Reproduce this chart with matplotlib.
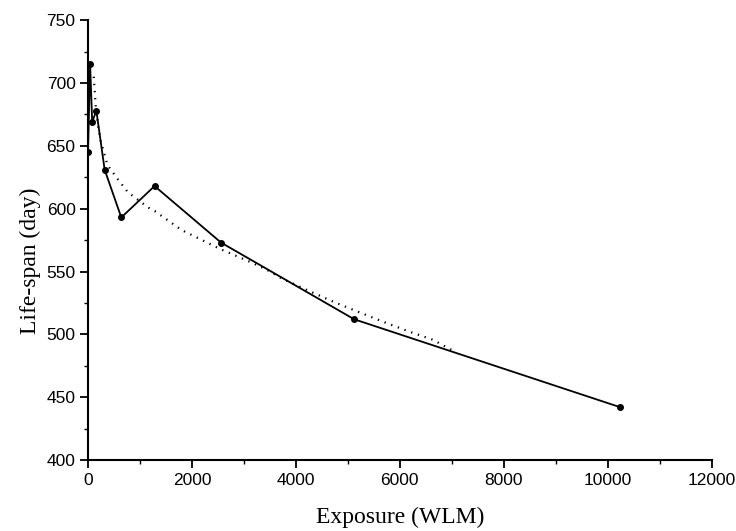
import matplotlib

matplotlib.use("Agg")
import matplotlib.pyplot as plt
from matplotlib.ticker import MultipleLocator

# exposición (WLM) y vida media (días)
exposure = [0, 40, 80, 160, 320, 640, 1280, 2560, 5120, 10240]
lifespan = [645, 715, 669, 678, 631, 593, 618, 573, 512, 442]

# curva de ajuste punteada, muestreada a ojo sobre la figura
fit_x = [110, 150, 200, 244, 371, 544, 769, 898, 1154, 1288, 1800, 2538,
         3100, 3436, 3750, 4333, 4718, 5102, 5679, 6192, 6641, 7019]
fit_y = [705, 680, 664, 654, 635, 625, 613, 609, 601, 598, 583, 568,
         558, 551.5, 544, 533, 526, 519.5, 510, 502, 495.6, 487]

fig = plt.figure(figsize=(7.36, 5.31), dpi=100)
ax = fig.add_axes([0.1196, 0.1337, 0.8474, 0.8283])

ax.plot(exposure, lifespan, color="black", lw=1.3, marker="o", ms=4)
ax.plot(fit_x, fit_y, color="black", lw=1.6, ls=(0, (0.6, 2.6)))

ax.set_xlim(0, 12000)
ax.set_ylim(400, 750)
ax.xaxis.set_major_locator(MultipleLocator(2000))
ax.xaxis.set_minor_locator(MultipleLocator(1000))
ax.yaxis.set_major_locator(MultipleLocator(50))
ax.yaxis.set_minor_locator(MultipleLocator(25))

for side in ("top", "right"):
    ax.spines[side].set_visible(False)
for side in ("left", "bottom"):
    ax.spines[side].set_linewidth(1.5)

ax.tick_params(which="major", direction="out", length=6, width=1.3,
               labelsize=12.5, pad=3)
ax.tick_params(which="minor", direction="out", length=3, width=1.0)
for lab in ax.get_xticklabels() + ax.get_yticklabels():
    lab.set_family("Liberation Sans")

ax.set_xlabel("Exposure (WLM)", family="Liberation Serif", fontsize=17, labelpad=14)
ax.set_ylabel("Life-span (day)", family="Liberation Serif", fontsize=17)
ax.yaxis.set_label_coords(-0.075, 0.452)

fig.savefig("out.png", dpi=100)
plt.close(fig)
